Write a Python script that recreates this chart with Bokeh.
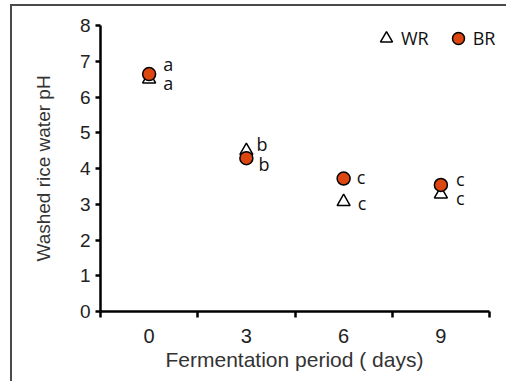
from bokeh.plotting import figure
from bokeh.models import FixedTicker, Legend, LegendItem, ColumnDataSource, Title
from bokeh.core.properties import value
from bokeh.embed import file_html
from bokeh.resources import INLINE

days = ["0", "3", "6", "9"]
wr_ph = [6.5, 4.5, 3.07, 3.28]
br_ph = [6.64, 4.29, 3.72, 3.54]
wr_letters = ["a", "b", "c", "c"]
br_letters = ["a", "b", "c", "c"]

# label placement (screen px, positive = down), layout only
br_dx = [14, 10, 13, 15]
br_dy = [-10, -14, -2, -6]
wr_dx = [14, 12, 14, 15]
wr_dy = [4, 13, 1, 4]

n = len(days)
xpos = [i + 0.5 for i in range(n)]

# frame extends a little past the last category so the legend is not clipped
frame_w = 402
x_end = n * frame_w / 389.0

p = figure(width=496, height=377, x_range=(0, x_end), y_range=(0, 8),
           output_backend="svg", toolbar_location=None,
           min_border_left=88, min_border_right=496 - 88 - frame_w,
           min_border_top=19, min_border_bottom=72)
p.margin = (4, 0, 0, 10)
p.styles = {"border-top": "2px solid #4a4a4a", "border-left": "2px solid #4a4a4a"}
p.grid.visible = False
p.outline_line_color = None
p.background_fill_color = "white"
p.border_fill_color = "white"

# x axis
p.xaxis.bounds = (0, n)
p.xaxis.ticker = FixedTicker(ticks=xpos, minor_ticks=list(range(n + 1)))
p.xaxis.major_label_overrides = {x: d for x, d in zip(xpos, days)}
p.xaxis.major_tick_out = 0
p.xaxis.major_tick_in = 0
p.xaxis.minor_tick_out = 6
p.xaxis.minor_tick_in = 0
p.xaxis.minor_tick_line_width = 2.5
p.xaxis.major_label_standoff = 11

# y axis
p.yaxis.ticker = FixedTicker(ticks=list(range(0, 9)))
p.yaxis.minor_tick_line_color = None
p.yaxis.major_tick_out = 5
p.yaxis.major_tick_in = 0
p.yaxis.major_tick_line_width = 2.5
p.yaxis.major_label_standoff = 5
p.yaxis.axis_label = "Washed rice water pH"
p.yaxis.axis_label_standoff = 23

for ax in (p.xaxis, p.yaxis):
    ax.axis_line_width = 2.5
    ax.axis_line_color = "black"
    ax.major_tick_line_color = "black"
    ax.major_label_text_font = "Liberation Sans"
    ax.major_label_text_color = "#222222"
    ax.axis_label_text_font = "Liberation Sans"
    ax.axis_label_text_font_style = "normal"
    ax.axis_label_text_color = "#333333"
p.xaxis.minor_tick_line_color = "black"
p.xaxis.major_label_text_font_size = "20px"
p.yaxis.major_label_text_font_size = "19px"
p.yaxis.axis_label_text_font_size = "19px"

xlabel = Title(text="Fermentation period ( days)", align="left", offset=65,
               text_font="Liberation Sans", text_font_size="21px",
               text_font_style="normal", text_color="#333333", standoff=0)
p.add_layout(xlabel, "below")

src = ColumnDataSource(dict(x=xpos, wr=wr_ph, br=br_ph, wl=wr_letters, bl=br_letters,
                            bdx=br_dx, bdy=br_dy, wdx=wr_dx, wdy=wr_dy))

r_wr = p.scatter("x", "wr", source=src, marker="triangle", size=13,
                 fill_color="white", line_color="black", line_width=1.5)
r_br = p.scatter("x", "br", source=src, marker="circle", size=13,
                 fill_color="#DC4610", line_color="black", line_width=1.5)

p.text("x", "br", text="bl", source=src, x_offset="bdx", y_offset="bdy",
       text_font=value("Open Sans"), text_font_size="18px", text_color="#111111",
       text_baseline="middle", text_align="left")
p.text("x", "wr", text="wl", source=src, x_offset="wdx", y_offset="wdy",
       text_font=value("Open Sans"), text_font_size="18px", text_color="#111111",
       text_baseline="middle", text_align="left")

legend = Legend(items=[LegendItem(label="WR", renderers=[r_wr]),
                       LegendItem(label="BR", renderers=[r_br])],
                orientation="horizontal", location=(271, 258),
                border_line_color=None, background_fill_alpha=0,
                label_text_font="Open Sans", label_text_font_size="18px",
                label_text_color="#111111", glyph_width=30, glyph_height=30,
                label_standoff=0, spacing=14, padding=0, margin=0)
p.add_layout(legend)

open("out.html", "w").write(file_html(p, INLINE))
